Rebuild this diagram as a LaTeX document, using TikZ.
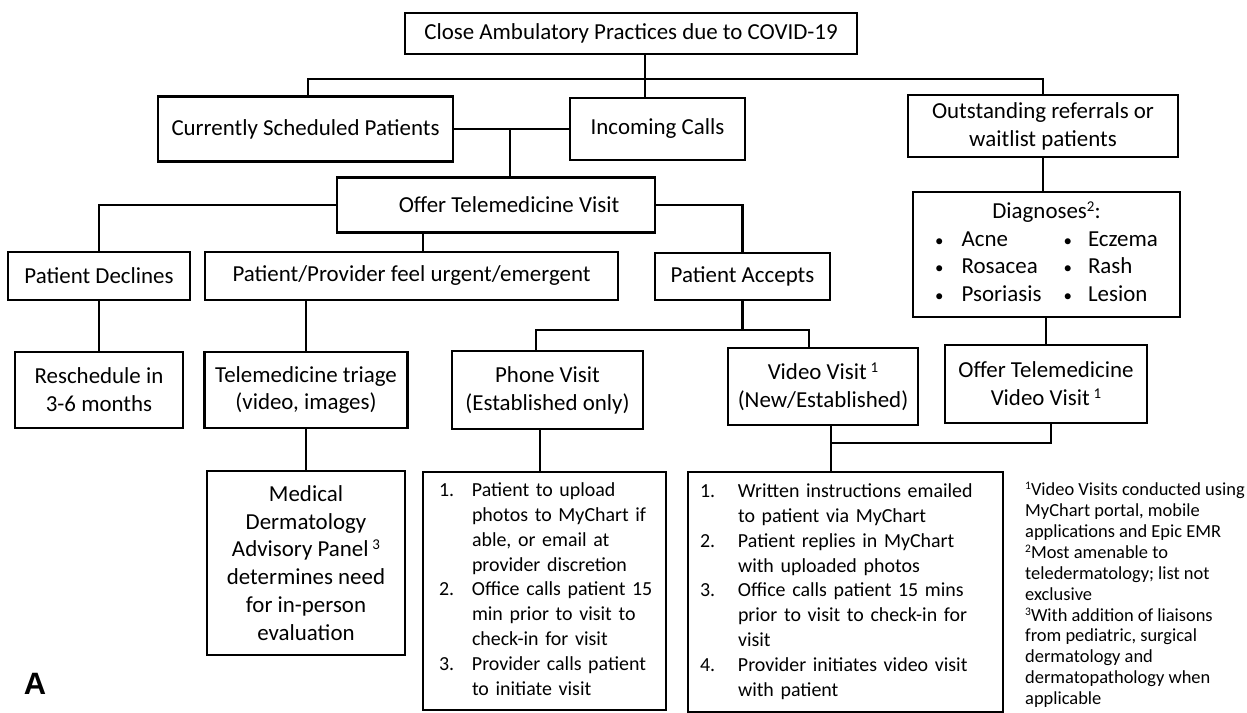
\documentclass[tikz,border=0pt]{standalone}
\usepackage{fontspec}
\setmainfont{Carlito}
\newfontfamily\labelfont{Liberation Sans}
\newcommand\sps[1]{\raisebox{0.32em}{\fontsize{15}{15}\selectfont #1}}
\newcommand\fns[1]{\raisebox{0.32em}{\fontsize{11.5}{11.5}\selectfont #1}}
\newcommand\blt{{\fontsize{17}{17}\selectfont\textbullet}}
\begin{document}
\begin{tikzpicture}[x=1bp,y=-1bp,
  box/.style={draw,line width=2.8bp,inner sep=0pt,align=center,font=\fontsize{23}{28}\selectfont},
  listbox/.style={draw,line width=2.8bp,align=left,inner ysep=0pt,font=\fontsize{20}{25}\selectfont},
  conn/.style={line width=2.8bp}]
\fill[white] (0,0) rectangle (1247,713);
\useasboundingbox (0,0) rectangle (1247,713);

\node[box,minimum width=452bp,minimum height=41bp] (top) at (631,33.5) {Close Ambulatory Practices due to COVID-19};
\node[box,minimum width=295bp,minimum height=65bp] (cur) at (305.5,129) {Currently Scheduled Patients};
\node[box,minimum width=175bp,minimum height=62bp] (inc) at (657.5,129) {Incoming Calls};
\node[box,minimum width=270bp,minimum height=62bp] (out) at (1043,126) {Outstanding referrals or\\waitlist patients};
\node[box,minimum width=318bp,minimum height=55bp] (offer) at (496,205) {\hspace*{26bp}Offer Telemedicine Visit};
\node[box,minimum width=267bp,minimum height=125bp,font=\fontsize{23}{27.5}\selectfont] (diag) at (1046.5,254.5) {%
  \begin{tabular}{@{}l@{\hspace{18bp}}l@{\hspace{22bp}}l@{\hspace{16bp}}l@{}}
  \multicolumn{4}{c}{Diagnoses\sps{2}:}\\
  \blt & Acne & \blt & Eczema\\
  \blt & Rosacea & \blt & Rash\\
  \blt & Psoriasis & \blt & Lesion
  \end{tabular}};
\node[box,minimum width=182bp,minimum height=48bp] (dec) at (99,276) {Patient Declines};
\node[box,minimum width=413bp,minimum height=48bp] (urg) at (411.5,276) {Patient/Provider feel urgent/emergent};
\node[box,minimum width=175bp,minimum height=47bp] (acc) at (742.5,276.5) {Patient Accepts};
\node[box,minimum width=168bp,minimum height=76bp] (res) at (99,390) {Reschedule in\\3-6 months};
\node[box,minimum width=203bp,minimum height=76bp] (tri) at (306,390) {Telemedicine triage\\(video, images)};
\node[box,minimum width=191bp,minimum height=78bp] (phone) at (547.5,390) {Phone Visit\\(Established only)};
\node[box,minimum width=190bp,minimum height=77bp] (video) at (823,386.5) {Video Visit\,\sps{1}\\(New/Established)};
\node[box,minimum width=202bp,minimum height=78bp] (otvv) at (1046,384) {Offer Telemedicine\\Video Visit\,\sps{1}};
\node[box,minimum width=198bp,minimum height=184bp] (med) at (306,563) {Medical\\Dermatology\\Advisory Panel\,\sps{3}\\determines need\\for in-person\\evaluation};
\node[listbox,minimum height=238bp,inner xsep=16bp,text width=211bp] (plist) at (544.5,591) {%
  \begin{tabular}{@{}p{33bp}@{}l@{}}
  1. & Patient to upload\\
     & photos to MyChart if\\
     & able, or email at\\
     & provider discretion\\
  2. & Office calls patient 15\\
     & min prior to visit to\\
     & check-in for visit\\
  3. & Provider calls patient\\
     & to initiate visit
  \end{tabular}};
\node[listbox,minimum height=240bp,inner xsep=12bp,text width=291bp] (vlist) at (845.5,592) {%
  \begin{tabular}{@{}p{38bp}@{}l@{}}
  1. & Written instructions emailed\\
     & to patient via MyChart\\
  2. & Patient replies in MyChart\\
     & with uploaded photos\\
  3. & Office calls patient 15 mins\\
     & prior to visit to check-in for\\
     & visit\\
  4. & Provider initiates video visit\\
     & with patient
  \end{tabular}};
\node[anchor=north west,inner sep=0pt,align=left,font=\fontsize{18.5}{21}\selectfont] (notes) at (1025,482) {%
  \fns{1}Video Visits conducted using\\
  MyChart portal, mobile\\
  applications and Epic EMR\\
  \fns{2}Most amenable to\\
  teledermatology; list not\\
  exclusive\\
  \fns{3}With addition of liaisons\\
  from pediatric, surgical\\
  dermatology and\\
  dermatopathology when\\
  applicable};
\node[font=\labelfont\bfseries\fontsize{31}{31}\selectfont,inner sep=0pt] (lab) at (35,684) {A};

\coordinate (h1) at (645,79);
\coordinate (xcur) at (308,0);
\coordinate (xoff) at (510,0);
\coordinate (h2) at (423,0);
\coordinate (h3) at (742.5,330);
\coordinate (xph) at (536,0);
\coordinate (xph2) at (540,0);
\coordinate (xvi) at (809,0);
\coordinate (xvi2) at (831,0);
\coordinate (xot) at (1051,0);
\coordinate (y443) at (0,443);
\coordinate (h4) at (xvi2 |- y443);
\draw[conn] (cur.north -| xcur) |- (h1) -| (out.north);
\draw[conn] (top.south -| h1) -- (inc.north -| h1);
\draw[conn] (cur.east) -- (inc.west);
\draw[conn] (offer.north -| xoff) -- (cur.east -| xoff);
\draw[conn] (offer.west) -| (dec.north);
\draw[conn] (offer.south -| h2) -- (urg.north -| h2);
\draw[conn] (offer.east) -| (acc.north);
\draw[conn] (dec.south) -- (res.north);
\draw[conn] (tri.north) -- (tri.north |- urg.south);
\draw[conn] (acc.south) -- (h3);
\draw[conn] (phone.north -| xph) |- (h3) -| (video.north -| xvi);
\draw[conn] (out.south) -- (out.south |- diag.north);
\draw[conn] (diag.south -| otvv.north) -- (otvv.north);
\draw[conn] (tri.south) -- (tri.south |- med.north);
\draw[conn] (phone.south -| xph2) -- (plist.north -| xph2);
\draw[conn] (video.south -| xvi2) -- (vlist.north -| xvi2);
\draw[conn] (h4) -| (otvv.south -| xot);
\end{tikzpicture}
\end{document}
